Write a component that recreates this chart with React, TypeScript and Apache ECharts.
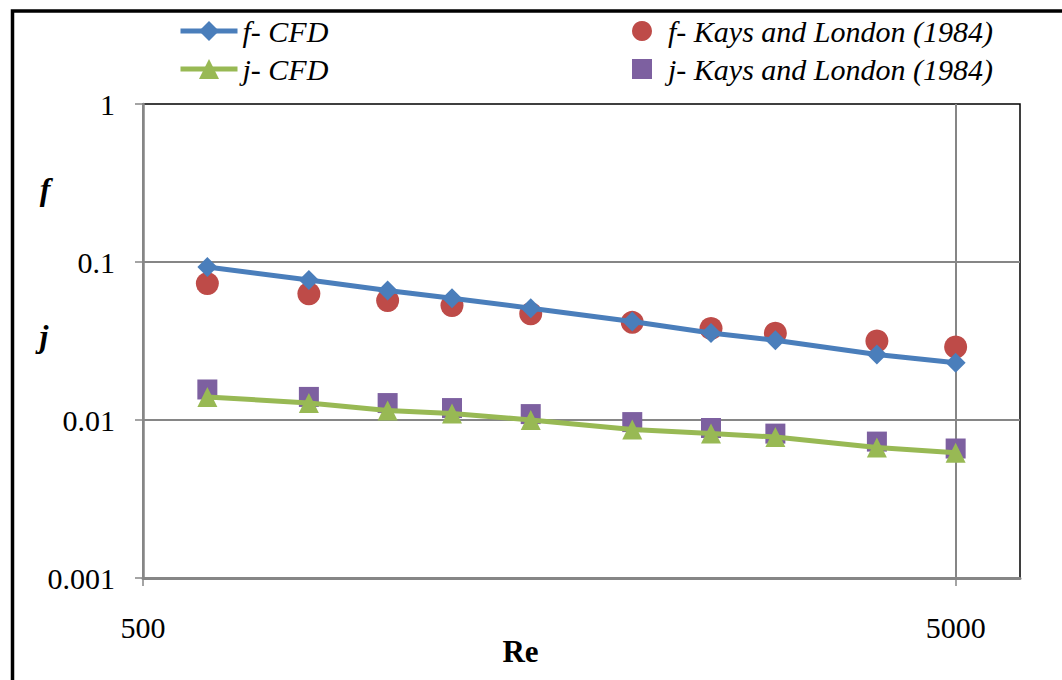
import React, { useEffect, useRef } from 'react';
import * as echarts from 'echarts';

// Reynolds numbers of the computed / measured points
const reynolds = [600, 800, 1000, 1200, 1500, 2000, 2500, 3000, 4000, 5000];

// Friction factor f and Colburn factor j
const fCfd = [0.093, 0.077, 0.066, 0.059, 0.051, 0.042, 0.0355, 0.032, 0.026, 0.023];
const fKays = [0.073, 0.063, 0.057, 0.053, 0.047, 0.0415, 0.038, 0.0354, 0.0316, 0.029];
const jCfd = [0.014, 0.0128, 0.0115, 0.011, 0.01, 0.0087, 0.0082, 0.0078, 0.0067, 0.0062];
const jKays = [0.0156, 0.014, 0.0128, 0.0119, 0.0109, 0.0097, 0.0089, 0.0082, 0.0073, 0.0066];

// Axis ticks
const reTicks = [500, 5000];
const reRange = [500, 6000];
const coefRange = [0.001, 1];

const seriesNames = [
  'f- CFD',
  'j- CFD',
  'f- Kays and London (1984)',
  'j- Kays and London (1984)',
];

const FONT = "'Times New Roman', 'Liberation Serif', Times, serif";
const GRID = '#868686';
const TEXT_SIZE = 30;

const pairs = (ys: number[]) => reynolds.map((x, i) => [x, ys[i]]);

export default function App() {
  const ref = useRef<HTMLDivElement>(null);

  useEffect(() => {
    const chart = echarts.init(ref.current!, null, { renderer: 'svg' });
    const legendText = {
      fontFamily: FONT,
      fontStyle: 'italic',
      fontSize: TEXT_SIZE,
      color: '#000',
    };
    chart.setOption({
      animation: false,
      backgroundColor: '#fff',
      textStyle: { fontFamily: FONT },
      grid: {
        left: 143,
        top: 104,
        right: 42,
        bottom: 102,
        show: true,
        borderColor: '#000',
        borderWidth: 1.5,
        containLabel: false,
      },
      legend: [
        {
          data: [seriesNames[0], seriesNames[1]],
          orient: 'vertical',
          left: 173,
          top: 11,
          itemWidth: 57,
          itemHeight: 25,
          itemGap: 8,
          textStyle: legendText,
          lineStyle: { width: 5 },
          selectedMode: false,
        },
        {
          data: [seriesNames[2], seriesNames[3]],
          orient: 'vertical',
          left: 627,
          top: 11,
          itemWidth: 20,
          itemHeight: 20,
          itemGap: 8,
          textStyle: { ...legendText, padding: [0, 0, 0, 11] },
          selectedMode: false,
        },
      ],
      xAxis: {
        type: 'log',
        logBase: 10,
        min: reRange[0],
        max: reRange[1],
        axisLine: { show: true, onZero: false, lineStyle: { color: GRID, width: 3 } },
        axisTick: {
          show: true,
          length: 8,
          customValues: reTicks,
          lineStyle: { color: GRID, width: 1.5 },
        },
        splitLine: { show: true, lineStyle: { color: GRID, width: 2 } },
        axisLabel: {
          customValues: reTicks,
          margin: 34,
          fontSize: TEXT_SIZE,
          color: '#000',
          fontFamily: FONT,
          formatter: (v: number) => String(Math.round(v)),
        },
        name: 'Re',
        nameLocation: 'middle',
        nameGap: 58,
        nameMoveOverlap: false,
        nameTextStyle: {
          fontFamily: FONT,
          fontWeight: 'bold',
          fontSize: 31,
          color: '#000',
          padding: [0, 122, 0, 0],
        },
      },
      yAxis: {
        type: 'log',
        logBase: 10,
        min: coefRange[0],
        max: coefRange[1],
        interval: 1,
        axisLine: { show: true, onZero: false, lineStyle: { color: GRID, width: 2.5 } },
        axisTick: { show: true, length: 8, lineStyle: { color: GRID, width: 1.5 } },
        splitLine: { show: true, showMaxLine: false, lineStyle: { color: GRID, width: 2 } },
        axisLabel: {
          margin: 28,
          fontSize: TEXT_SIZE,
          color: '#000',
          fontFamily: FONT,
          formatter: (v: number) => String(Number(v.toPrecision(3))),
        },
      },
      graphic: [
        {
          type: 'rect',
          shape: { x: 12.5, y: 11, width: 1100, height: 720 },
          style: { fill: 'none', stroke: '#000', lineWidth: 3.5 },
          silent: true,
          z: 100,
        },
        {
          type: 'text',
          x: 45,
          y: 189,
          style: {
            text: 'f',
            fontFamily: FONT,
            fontStyle: 'italic',
            fontWeight: 'bold',
            fontSize: 32,
            fill: '#000',
            align: 'center',
            verticalAlign: 'middle',
          },
        },
        {
          type: 'text',
          x: 44,
          y: 336,
          style: {
            text: 'j',
            fontFamily: FONT,
            fontStyle: 'italic',
            fontWeight: 'bold',
            fontSize: 32,
            fill: '#000',
            align: 'center',
            verticalAlign: 'middle',
          },
        },
      ],
      series: [
        {
          name: seriesNames[0],
          type: 'line',
          data: pairs(fCfd),
          symbol: 'diamond',
          symbolSize: 20,
          lineStyle: { color: '#4A7EBB', width: 5 },
          itemStyle: { color: '#4A7EBB' },
        },
        {
          name: seriesNames[1],
          type: 'line',
          data: pairs(jCfd),
          symbol: 'triangle',
          symbolSize: 20,
          lineStyle: { color: '#98B954', width: 5 },
          itemStyle: { color: '#98B954' },
        },
        {
          name: seriesNames[2],
          type: 'scatter',
          data: pairs(fKays),
          symbol: 'circle',
          symbolSize: 23,
          itemStyle: { color: '#BE4B48', opacity: 1 },
        },
        {
          name: seriesNames[3],
          type: 'scatter',
          data: pairs(jKays),
          symbol: 'rect',
          symbolSize: 20,
          itemStyle: { color: '#7D60A0', opacity: 1 },
        },
      ],
    });
    return () => chart.dispose();
  }, []);

  return (
    <div
      ref={ref}
      style={{ position: 'fixed', left: 0, top: 0, width: 1062, height: 680, background: '#fff' }}
    />
  );
}
